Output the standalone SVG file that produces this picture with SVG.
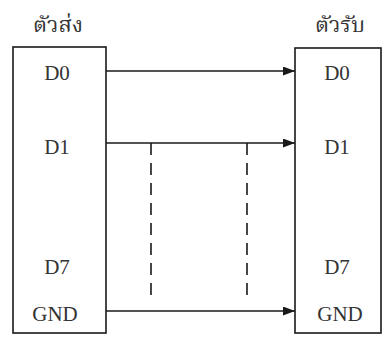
<svg xmlns="http://www.w3.org/2000/svg" width="384" height="338" viewBox="0 0 384 338">
  <style>
    .box { fill: #ffffff; stroke: #1a1a1a; stroke-width: 1.6; }
    .lbl { font-family: "Liberation Serif", "Noto Serif Thai", "Noto Sans Thai", serif; font-size: 21px; fill: #333333; text-anchor: middle; }
    .title { font-family: "Liberation Serif", "Noto Serif Thai", "Noto Sans Thai", "Noto Sans", serif; font-size: 22px; fill: #333333; text-anchor: middle; }
    .wire { stroke: #1a1a1a; stroke-width: 1.6; fill: none; }
    .dash { stroke: #1a1a1a; stroke-width: 1.6; fill: none; stroke-dasharray: 12 8; }
  </style>
  <defs>
    <marker id="arrow" viewBox="0 0 12 9" refX="12" refY="4.5" markerWidth="12" markerHeight="9" markerUnits="userSpaceOnUse" orient="auto">
      <path d="M0,0 L12,4.5 L0,9 z" fill="#1a1a1a"/>
    </marker>
  </defs>
  <rect width="384" height="338" fill="#ffffff"/>

  <g id="sender">
    <text class="title" x="58" y="32">ตัวส่ง</text>
    <rect class="box" x="13" y="47" width="93" height="286"/>
    <text class="lbl" x="57" y="80">D0</text>
    <text class="lbl" x="57" y="154">D1</text>
    <text class="lbl" x="57" y="274">D7</text>
    <text class="lbl" x="55" y="321">GND</text>
  </g>

  <g id="receiver">
    <text class="title" x="340" y="32">ตัวรับ</text>
    <rect class="box" x="295" y="48" width="86" height="285"/>
    <text class="lbl" x="337" y="80">D0</text>
    <text class="lbl" x="337" y="154">D1</text>
    <text class="lbl" x="337" y="274">D7</text>
    <text class="lbl" x="340" y="321">GND</text>
  </g>

  <g id="connectors">
    <line class="wire" x1="106" y1="71" x2="295" y2="71" marker-end="url(#arrow)"/>
    <line class="wire" x1="106" y1="143" x2="295" y2="143" marker-end="url(#arrow)"/>
    <line class="wire" x1="106" y1="311" x2="295" y2="311" marker-end="url(#arrow)"/>
    <line class="dash" x1="151" y1="143" x2="151" y2="302"/>
    <line class="dash" x1="247" y1="143" x2="247" y2="302"/>
  </g>
</svg>
